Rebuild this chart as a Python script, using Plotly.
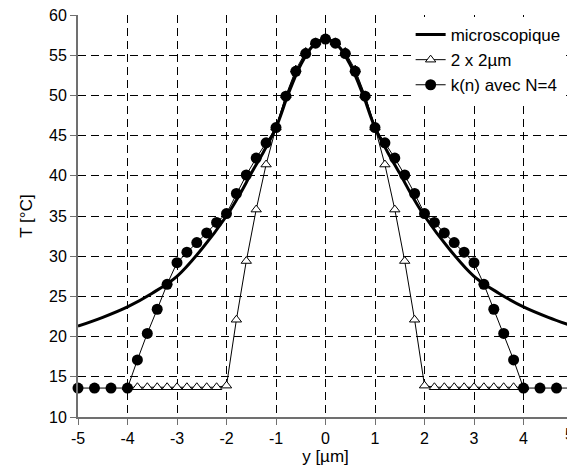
import plotly.graph_objects as go

# microscopic curve
micro_x = [-5, -4.5, -4, -3.5, -3, -2.5, -2, -1.75, -1.5, -1.25, -1, -0.75, -0.5, -0.25, 0,
           0.25, 0.5, 0.75, 1, 1.25, 1.5, 1.75, 2, 2.5, 3, 3.5, 4, 4.5, 5]
micro_y = [21.3, 22.4, 23.7, 25.4, 27.5, 30.9, 35.0, 37.5, 40.3, 43.0, 46.0, 50.2, 53.8, 56.2, 57.0,
           56.2, 53.8, 50.2, 46.0, 43.0, 40.3, 37.5, 35.0, 30.9, 27.5, 25.4, 23.7, 22.4, 21.3]

# 2 x 2 µm
tri_x = [-4.0, -3.8, -3.6, -3.4, -3.2, -3.0, -2.8, -2.6, -2.4, -2.2, -2.0, -1.8, -1.6, -1.4, -1.2,
         -1.0, -0.8, -0.6, -0.4, -0.2, 0.0, 0.2, 0.4, 0.6, 0.8, 1.0,
         1.2, 1.4, 1.6, 1.8, 2.0, 2.2, 2.4, 2.6, 2.8, 3.0, 3.2, 3.4, 3.6, 3.8, 4.0]
tri_y = [13.7, 13.7, 13.7, 13.7, 13.7, 13.7, 13.7, 13.7, 13.7, 13.7, 13.9, 22.1, 29.4, 35.8, 41.4,
         46.0, 50.0, 53.2, 55.4, 56.6, 57.0, 56.6, 55.4, 53.2, 50.0, 46.0,
         41.4, 35.8, 29.4, 22.1, 13.9, 13.7, 13.7, 13.7, 13.7, 13.7, 13.7, 13.7, 13.7, 13.7, 13.7]

# k(n) avec N=4
kn_x = [-5.0, -4.667, -4.333, -4.0, -3.8, -3.6, -3.4, -3.2, -3.0, -2.8, -2.6, -2.4, -2.2, -2.0,
        -1.8, -1.6, -1.4, -1.2, -1.0, -0.8, -0.6, -0.4, -0.2, 0.0,
        0.2, 0.4, 0.6, 0.8, 1.0, 1.2, 1.4, 1.6, 1.8, 2.0, 2.2, 2.4, 2.6, 2.8, 3.0,
        3.2, 3.4, 3.6, 3.8, 4.0, 4.333, 4.667, 5.0]
kn_y = [13.6, 13.6, 13.6, 13.6, 17.1, 20.4, 23.4, 26.5, 29.2, 30.5, 31.7, 32.9, 34.2, 35.3,
        37.8, 40.1, 42.2, 44.1, 46.0, 49.9, 53.0, 55.2, 56.5, 57.0,
        56.5, 55.2, 53.0, 49.9, 46.0, 44.1, 42.2, 40.1, 37.8, 35.3, 34.2, 32.9, 31.7, 30.5, 29.2,
        26.5, 23.4, 20.4, 17.1, 13.6, 13.6, 13.6, 13.6]

x_ticks = [-5, -4, -3, -2, -1, 0, 1, 2, 3, 4, 5]
y_ticks = [10, 15, 20, 25, 30, 35, 40, 45, 50, 55, 60]

fig = go.Figure()
fig.add_trace(go.Scatter(x=micro_x, y=micro_y, mode="lines", name="microscopique",
                         line=dict(color="black", width=3, shape="spline", smoothing=1.0),
                         cliponaxis=False))
fig.add_trace(go.Scatter(x=tri_x, y=tri_y, mode="lines+markers", name="2 x 2µm",
                         line=dict(color="black", width=1),
                         marker=dict(symbol="triangle-up", size=9, color="white",
                                     line=dict(color="black", width=1)),
                         cliponaxis=False))
fig.add_trace(go.Scatter(x=kn_x, y=kn_y, mode="lines+markers", name="k(n) avec N=4",
                         line=dict(color="black", width=1),
                         marker=dict(symbol="circle", size=11, color="black"),
                         cliponaxis=False))

# last x tick label drawn as annotation nudged inward so it is not cut at the window edge
x_ticktext = [str(v) for v in x_ticks[:-1]] + [""]
fig.add_annotation(x=x_ticks[-1], xref="x", y=0, yref="paper", text=str(x_ticks[-1]),
                   showarrow=False, xanchor="center", yanchor="top", xshift=-4, yshift=-7,
                   font=dict(size=16, color="black"))

font = "Liberation Sans, Arial, sans-serif"
# page body has an 8px margin: figure is sized/margined so the plot area lands at
# x 78..573, y 15..417 in the window
fig.update_layout(
    width=567, height=467,
    margin=dict(l=70, r=2, t=7, b=58, autoexpand=False),
    paper_bgcolor="white", plot_bgcolor="white",
    font=dict(family=font, size=16, color="black"),
    showlegend=True,
    legend=dict(x=0.672, xanchor="left", y=0.995, yanchor="top", bgcolor="white",
                font=dict(size=17), tracegroupgap=0, borderwidth=0),
    xaxis=dict(range=[-5, 5], tickvals=x_ticks, ticktext=x_ticktext,
               automargin=False, ticklabeloverflow="allow",
               showgrid=True, gridcolor="black", gridwidth=1, griddash="8px,5px",
               zeroline=False, showline=True, linecolor="#707070", linewidth=2,
               ticks="outside", ticklen=6, tickcolor="#707070",
               title=dict(text="y [µm]", standoff=4, font=dict(size=17))),
    yaxis=dict(range=[10, 60], tickvals=y_ticks, ticktext=[str(v) for v in y_ticks],
               automargin=False, ticklabeloverflow="allow",
               showgrid=True, gridcolor="black", gridwidth=1, griddash="8px,5px",
               zeroline=False, showline=True, linecolor="#707070", linewidth=2,
               ticks="outside", ticklen=6, tickcolor="#707070",
               title=dict(text="T [°C]", standoff=12, font=dict(size=17))),
)

fig.write_html("out.html")
